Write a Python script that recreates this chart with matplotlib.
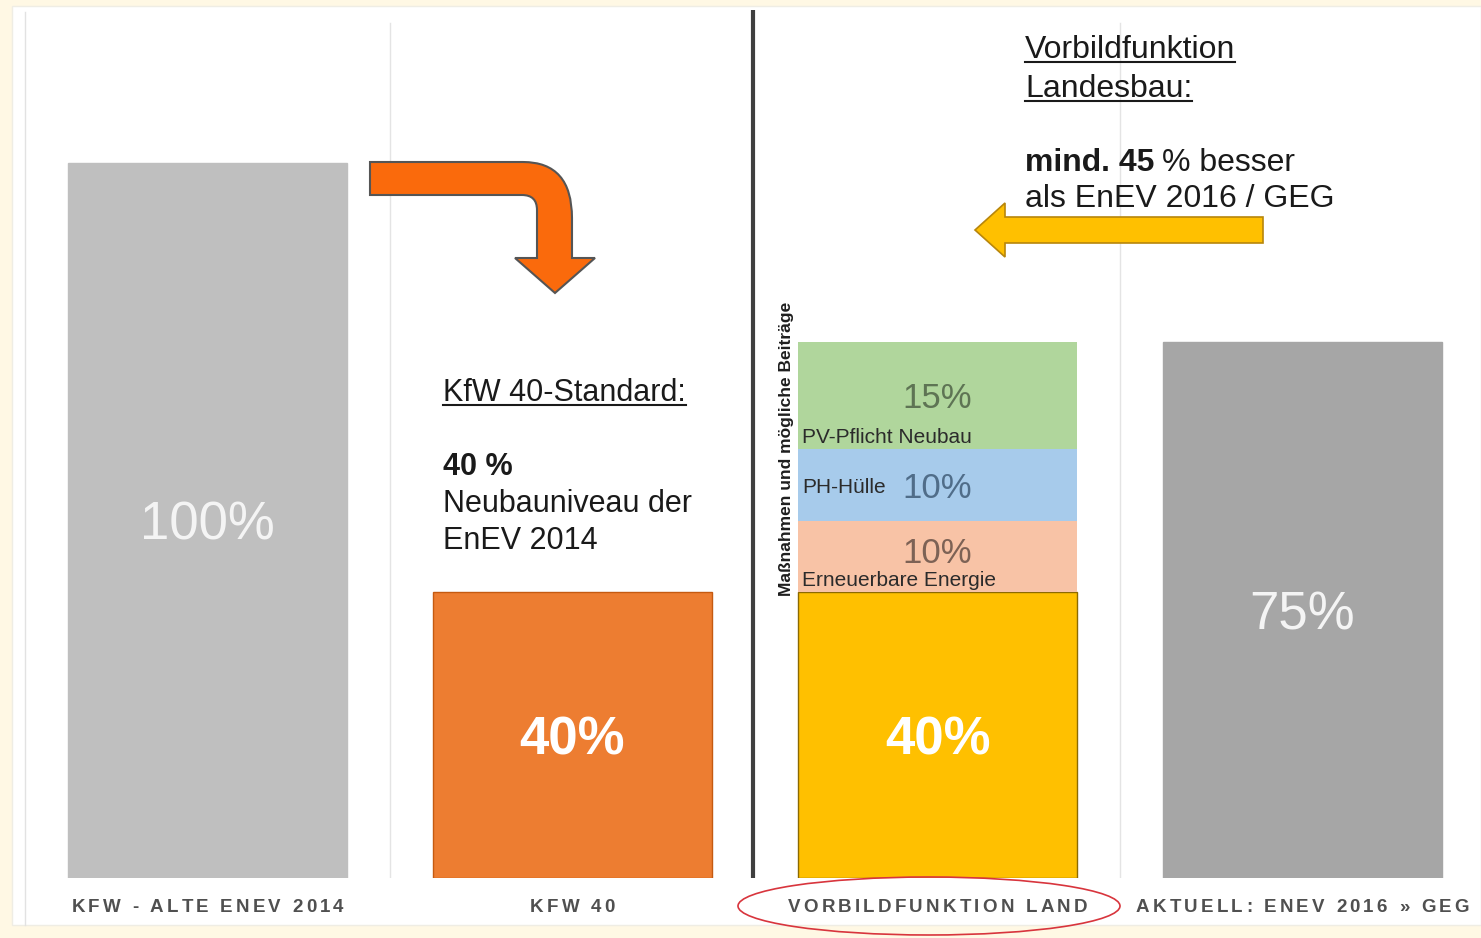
import matplotlib
matplotlib.use('Agg')
import matplotlib.pyplot as plt
from matplotlib.patches import Rectangle, Ellipse, PathPatch
from matplotlib.path import Path
from matplotlib.transforms import Affine2D
from matplotlib.lines import Line2D
from matplotlib import font_manager
from matplotlib.ft2font import FT2Font

W, H = 1481, 938
plt.rcParams['font.family'] = ['Liberation Sans', 'DejaVu Sans']

# Chart data
categories = ['KFW - ALTE ENEV 2014', 'KFW 40', 'VORBILDFUNKTION LAND', 'AKTUELL: ENEV 2016 » GEG']
base_values = [100, 40, 40, 75]
base_labels = ['100%', '40%', '40%', '75%']
base_bold = [False, True, True, False]
base_colors = ['#BFBFBF', '#ED7D31', '#FFC000', '#A6A6A6']
base_edges = ['#BFBFBF', '#C55A11', '#8C6A00', '#A6A6A6']

stack_names = ['Erneuerbare Energie', 'PH-Hülle', 'PV-Pflicht Neubau']
stack_values = [10, 10, 15]
stack_colors = ['#F8C3A6', '#A7CBEB', '#B0D69C']
stack_text_colors = ['#7D6255', '#506D89', '#5E7454']
stack_name_at_center = [False, True, False]
stack_bar = 2

fig = plt.figure(figsize=(W / 100, H / 100), dpi=100, facecolor='#FFF8E4')
# pixel coordinates, origin top-left
px = Affine2D().scale(1 / W, -1 / H).translate(0, 1) + fig.transFigure

# white slide panel
fig.add_artist(Rectangle((12, 6), W - 12, 919, transform=px, facecolor='white',
                         edgecolor='#EFEDE4', lw=1, zorder=-2))
fig.add_artist(Line2D([25, 25], [12, 925], transform=px, color='#E2E2E2', lw=1, zorder=-1))

ax = fig.add_axes([25 / W, 1 - 878 / H, 1456 / W, 868 / H])
ax.set_facecolor('none')
ax.set_xlim(-0.5, -0.5 + 1456 / 365)
ax.set_ylim(0, 868 / 7.15)
for s in ax.spines.values():
    s.set_visible(False)
ax.set_xticks([])
ax.set_yticks([])

x = list(range(len(categories)))
bw = 0.767

# separators
ax.axvline(0.5, ymin=0.0, ymax=0.985, color='#E4E4E4', lw=1, zorder=1)
ax.axvline(2.5, ymin=0.0, ymax=0.985, color='#E4E4E4', lw=1, zorder=1)
ax.axvline(1.495, ymin=0.0, ymax=1.0, color='#3F3F3F', lw=3, zorder=1)

ax.bar(x, base_values, width=bw, color=base_colors, edgecolor=base_edges, linewidth=1, zorder=3)
for i, (v, t, b) in enumerate(zip(base_values, base_labels, base_bold)):
    ax.text(i, v / 2, t, ha='center', va='center_baseline', fontsize=38,
            fontweight='bold' if b else 'normal',
            color='white' if b else '#F4F4F4', zorder=5)

# stacked contributions on the third bar
bottom = base_values[stack_bar]
left = stack_bar - bw / 2
for name, v, c, tc, mid in zip(stack_names, stack_values, stack_colors, stack_text_colors,
                                stack_name_at_center):
    ax.bar(stack_bar, v, bottom=bottom, width=bw, color=c, linewidth=0, zorder=3)
    py = bottom + v / 2 if (mid or v > 10) else bottom + v / 2 + 0.9
    ax.text(stack_bar, py, '%d%%' % v, ha='center',
            va='center_baseline', fontsize=25, color=tc, zorder=5)
    ny = bottom + v / 2 - 0.4 if mid else bottom + 1.6
    ax.text(left + 0.013, ny, name, ha='left', va='center', fontsize=15,
            color='#2B2B2B', zorder=5)
    bottom += v

ax.text(left - 0.03, 60, 'Maßnahmen und mögliche Beiträge', rotation=90, ha='center',
        va='center', fontsize=12.5, fontweight='bold', color='#1E1E1E', zorder=5)

# letter-spaced category labels
fpath = font_manager.findfont(font_manager.FontProperties(family='Liberation Sans', weight='bold'))
ft = FT2Font(fpath)
lab_size = 13.5
ft.set_size(lab_size, 100)
fig.canvas.draw()
for i, lab in enumerate(categories):
    xc = ax.transData.transform((i, 0))[0]
    advs = [ft.load_char(ord(ch)).linearHoriAdvance / 65536 for ch in lab]
    gap = 3.2
    xs = xc - (sum(advs) + gap * (len(lab) - 1)) / 2
    for ch, a in zip(lab, advs):
        fig.text(xs, 912, ch, transform=px, ha='left', va='baseline', fontsize=lab_size,
                 fontweight='bold', color='#505050')
        xs += a + gap

# red ellipse around the highlighted category
fig.add_artist(Ellipse((929, 906), 382, 58, transform=px, fill=False,
                       edgecolor='#D8353D', lw=1.2, zorder=6))

# orange bent arrow
verts = [(370, 162), (523, 162), (572, 162), (572, 218), (572, 258), (595, 258),
         (555, 293), (515, 258), (537, 258), (537, 210), (537, 195), (522, 195),
         (370, 195), (370, 162)]
codes = [Path.MOVETO, Path.LINETO, Path.CURVE3, Path.CURVE3, Path.LINETO, Path.LINETO,
         Path.LINETO, Path.LINETO, Path.LINETO, Path.LINETO, Path.CURVE3, Path.CURVE3,
         Path.LINETO, Path.CLOSEPOLY]
fig.add_artist(PathPatch(Path(verts, codes), transform=px, facecolor='#FA6A0C',
                         edgecolor='#555555', lw=1.5, zorder=6))

# yellow arrow pointing left
verts = [(1263, 217), (1005, 217), (1005, 203), (975, 230), (1005, 257), (1005, 243),
         (1263, 243), (1263, 217)]
codes = [Path.MOVETO] + [Path.LINETO] * 6 + [Path.CLOSEPOLY]
fig.add_artist(PathPatch(Path(verts, codes), transform=px, facecolor='#FFC000',
                         edgecolor='#B8860B', lw=1.2, zorder=6))

# annotation texts
def note(xp, yp, s, size, bold=False, underline=False):
    t = fig.text(xp, yp, s, transform=px, ha='left', va='baseline', fontsize=size,
                 fontweight='bold' if bold else 'normal', color='#1A1A1A')
    if underline:
        fig.canvas.draw()
        bb = t.get_window_extent()
        fig.add_artist(Line2D([bb.x0, bb.x1], [yp + 4, yp + 4], transform=px,
                              color='#1A1A1A', lw=1.5))
    return t

note(443, 401, 'KfW 40-Standard:', 22, underline=True)
note(443, 475, '40 %', 22, bold=True)
note(443, 512, 'Neubauniveau der', 22)
note(443, 549, 'EnEV 2014', 22)

note(1025, 58, 'Vorbildfunktion', 23, underline=True)
note(1025, 97, 'Landesbau:', 23, underline=True)
t = note(1025, 171, 'mind. 45', 23, bold=True)
fig.canvas.draw()
note(t.get_window_extent().x1 + 8, 171, '% besser', 23)
note(1025, 207, 'als EnEV 2016 / GEG', 23)

plt.savefig('out.png', dpi=100, facecolor=fig.get_facecolor())
